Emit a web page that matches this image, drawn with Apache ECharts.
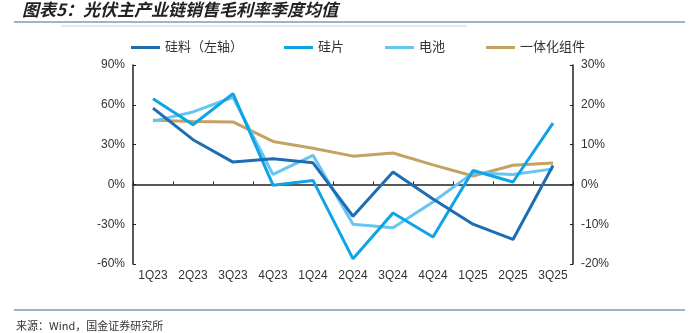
<!DOCTYPE html>
<html><head><meta charset="utf-8">
<script src="https://cdn.jsdelivr.net/npm/echarts@6/dist/echarts.min.js"></script>
<style>html,body{margin:0;padding:0;background:#fff}#c{width:690px;height:333px}</style>
</head><body><div id="c"></div>
<script>
const categories = ['1Q23','2Q23','3Q23','4Q23','1Q24','2Q24','3Q24','4Q24','1Q25','2Q25','3Q25'];
const polysilicon = [57.5, 33.7, 16.8, 19.3, 16.3, -24, 9.3, -11, -30, -41.5, 14.3];
const wafer = [21.5, 15, 22.8, -0.2, 1, -18.7, -7.2, -13.2, 3.5, 0.6, 15.4];
const cell = [15.9, 18.2, 21.9, 2.5, 7.3, -10, -10.9, -4.4, 2.9, 2.5, 3.9];
const module = [16.1, 15.8, 15.7, 10.8, 9.1, 7.1, 7.9, 4.9, 2.1, 4.8, 5.4];
const leftTicks = {min: -60, max: 90, interval: 30};
const rightTicks = {min: -20, max: 30, interval: 10};
const names = ['硅料（左轴）', '硅片', '电池', '一体化组件'];
const colors = ['#1C6DB4', '#0FA4E6', '#66C5F1', '#C4A262'];

const chart = echarts.init(document.getElementById('c'));
const font = 'Arial, "Liberation Sans", "Noto Sans CJK SC", sans-serif';
const axisCommon = {
  axisLine: {show: true, lineStyle: {color: '#222', width: 1.5}},
  axisTick: {show: true, inside: true, length: 3, lineStyle: {color: '#222'}},
  splitLine: {show: false},
  axisLabel: {color: '#333', fontSize: 12, fontFamily: font, formatter: '{value}%'}
};
function mk(i, data, yIdx) {
  return {name: names[i], type: 'line', xAxisIndex: 0, yAxisIndex: yIdx, data: data, symbol: 'none',
    lineStyle: {width: 3, color: colors[i]}, itemStyle: {color: colors[i]}, z: 10 - i};
}
chart.setOption({
  animation: false,
  textStyle: {fontFamily: font},
  legend: {top: 36, left: 126, itemWidth: 29, itemHeight: 3, itemGap: 41,
    icon: 'rect', textStyle: {fontSize: 13, color: '#333', fontFamily: font},
    data: names},
  grid: {left: 133, right: 117, top: 65, bottom: 69, containLabel: false, outerBoundsMode: 'none'},
  xAxis: [
    {type: 'category', data: categories, boundaryGap: true, position: 'bottom',
      axisLine: {onZero: true, lineStyle: {color: '#222', width: 1.5}},
      axisTick: {show: true, inside: true, length: 3, lineStyle: {color: '#222'}},
      axisLabel: {show: false}},
    {type: 'category', data: categories, boundaryGap: true, position: 'bottom',
      axisLine: {show: false, onZero: false}, axisTick: {show: false},
      axisLabel: {margin: 6, color: '#333', fontSize: 12, fontFamily: font}}
  ],
  yAxis: [
    Object.assign({type: 'value', position: 'left'}, leftTicks, axisCommon),
    Object.assign({type: 'value', position: 'right'}, rightTicks, axisCommon)
  ],
  series: [mk(0, polysilicon, 0), mk(1, wafer, 1), mk(2, cell, 1), mk(3, module, 1)],
  graphic: [
    {type: 'text', left: 22, top: 1, style: {text: '图表5：光伏主产业链销售毛利率季度均值',
      font: 'italic bold 17px "Noto Sans CJK SC", sans-serif', fill: '#222'}},
    {type: 'line', shape: {x1: 14, y1: 22, x2: 685, y2: 22}, style: {stroke: '#7F9DB0', lineWidth: 1.5}},
    {type: 'line', shape: {x1: 61, y1: 26, x2: 467, y2: 26}, style: {stroke: '#D0D0D0', lineWidth: 1}},
    {type: 'line', shape: {x1: 14, y1: 310, x2: 685, y2: 310}, style: {stroke: '#7F9DB0', lineWidth: 1.5}},
    {type: 'text', left: 16, top: 320, style: {text: '来源：Wind，国金证券研究所',
      font: '11px "Noto Sans CJK SC", sans-serif', fill: '#333'}}
  ]
});
</script></body></html>
